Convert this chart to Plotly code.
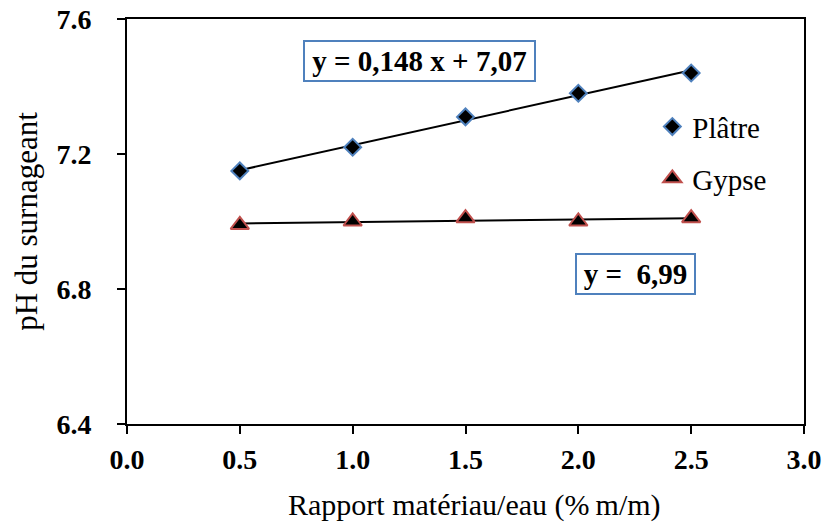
import numpy as np
import plotly.graph_objects as go

# Data
ratio = [0.5, 1.0, 1.5, 2.0, 2.5]
ph_platre = [7.15, 7.22, 7.31, 7.38, 7.44]
ph_gypse = [6.99, 7.00, 7.01, 7.00, 7.01]
x_ticks = [0.0, 0.5, 1.0, 1.5, 2.0, 2.5, 3.0]
y_ticks = [6.4, 6.8, 7.2, 7.6]
eq_platre = "y = 0,148 x + 7,07"
eq_gypse = "y = \u00a06,99"
x_title = "Rapport matériau/eau (%\u2009m/m)"
y_title = "pH du surnageant"

FONT = "Liberation Serif, Times New Roman, serif"

# linear trendlines (least squares) from the data
def trend(x, y):
    a, b = np.polyfit(x, y, 1)
    xs = np.array([min(x), max(x)])
    return xs, a * xs + b

tx1, ty1 = trend(ratio, ph_platre)
tx2, ty2 = trend(ratio, ph_gypse)

fig = go.Figure()
fig.add_trace(go.Scatter(x=tx1, y=ty1, mode="lines", line=dict(color="black", width=2),
                         showlegend=False, hoverinfo="skip"))
fig.add_trace(go.Scatter(x=tx2, y=ty2, mode="lines", line=dict(color="black", width=2),
                         showlegend=False, hoverinfo="skip"))
fig.add_trace(go.Scatter(x=ratio, y=ph_platre, mode="markers", name="Plâtre", legendgroup="a",
                         marker=dict(symbol="diamond", size=13, color="black",
                                     line=dict(color="#4F81BD", width=2))))
fig.add_trace(go.Scatter(x=ratio, y=ph_gypse, mode="markers", name="Gypse", legendgroup="b",
                         marker=dict(symbol="triangle-up", size=16, color="black",
                                     line=dict(color="#C0504D", width=2))))

fig.add_annotation(x=1.295, y=7.476, xref="x", yref="y", text="<b>" + eq_platre + "</b>",
                   showarrow=False, font=dict(family=FONT, size=29, color="black"),
                   bordercolor="#4F81BD", borderwidth=2, borderpad=0, width=229, height=38,
                   bgcolor="white")
fig.add_annotation(x=2.252, y=6.844, xref="x", yref="y", text="<b>" + eq_gypse + "</b>",
                   showarrow=False, font=dict(family=FONT, size=29, color="black"),
                   bordercolor="#4F81BD", borderwidth=2, borderpad=0, width=117, height=38,
                   bgcolor="white")
# x axis title (slightly right of plot centre, as in the original)
fig.add_annotation(x=0.514, y=-0.2001, xref="paper", yref="paper", text=x_title,
                   showarrow=False, xanchor="center", yanchor="middle",
                   font=dict(family=FONT, size=30, color="black"))

fig.update_layout(
    width=825, height=524,
    margin=dict(l=127, r=21, t=19, b=100, autoexpand=False),
    paper_bgcolor="white", plot_bgcolor="white",
    font=dict(family=FONT, color="black"),
    legend=dict(x=0.776, y=0.797, xanchor="left", yanchor="top",
                font=dict(family=FONT, size=29, color="black"),
                bgcolor="rgba(0,0,0,0)", tracegroupgap=11, traceorder="grouped"),
    showlegend=True,
)
fig.update_xaxes(range=[0, 3], tickvals=x_ticks, ticktext=[f"{v:.1f}" for v in x_ticks],
                 automargin=False,
                 showgrid=False, zeroline=False, showline=True, linecolor="black", linewidth=2,
                 mirror=True, ticks="outside", ticklen=8, tickwidth=2, tickcolor="black",
                 tickfont=dict(family=FONT, size=28, color="black", weight="bold"),
                 ticklabelstandoff=1)
fig.update_yaxes(range=[6.4, 7.6], tickvals=y_ticks, ticktext=[f"{v:.1f}" for v in y_ticks],
                 automargin=False,
                 showgrid=False, zeroline=False, showline=True, linecolor="black", linewidth=2,
                 mirror=True, ticks="outside", ticklen=8, tickwidth=2, tickcolor="black",
                 tickfont=dict(family=FONT, size=28, color="black", weight="bold"),
                 ticklabelstandoff=20,
                 title=dict(text=y_title, standoff=10,
                            font=dict(family=FONT, size=31, color="black")))

fig.write_html("out.html")
